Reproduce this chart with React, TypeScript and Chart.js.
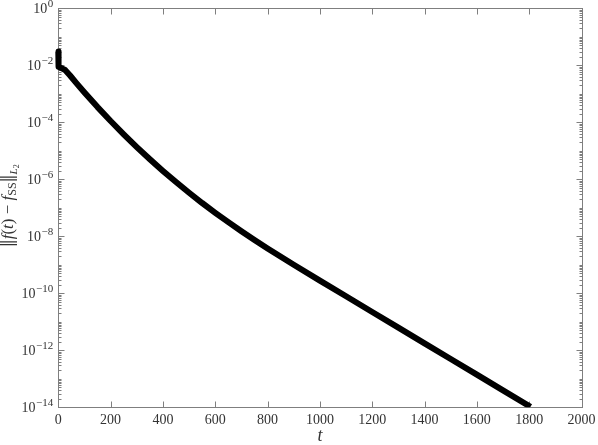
import React, { useEffect, useRef } from "react";
import { Chart, registerables } from "chart.js";

Chart.register(...registerables);

// time samples t and the L2 error norm ||f(t) - f_SS||
const times = [0, 1, 12, 26, 45, 70, 100, 150, 200, 250, 300, 350, 400, 450, 500, 550, 600, 650, 700, 750, 800, 900, 1000, 1100, 1200, 1300, 1400, 1500, 1600, 1700, 1805];
const errorNorm = [
  3.02e-2, 8.91e-3, 7.94e-3, 6.84e-3, 4.39e-3, 2.33e-3, 1.114e-3, 3.41e-4, 1.109e-4, 3.79e-5,
  1.355e-5, 5.06e-6, 1.972e-6, 8.0e-7, 3.37e-7, 1.472e-7, 6.68e-8, 3.13e-8, 1.503e-8, 7.41e-9,
  3.76e-9, 1.005e-9, 2.79e-10, 7.85e-11, 2.213e-11, 6.24e-12, 1.758e-12, 4.95e-13, 1.396e-13, 3.94e-14,
  1.04e-14,
];
const xTicks = [0, 200, 400, 600, 800, 1000, 1200, 1400, 1600, 1800, 2000];
const yTickExponents = [0, -2, -4, -6, -8, -10, -12, -14];
const xMin = 0;
const xMax = 2000;
const yMinExp = -14;
const yMaxExp = 0;

const AXIS_COLOR = "#7f7f7f";
const TEXT_COLOR = "#333333";

type Seg = { t: string; font: string; dy: number };

const yTitle: Seg[] = [
  { t: "\u2016", font: '16px "DejaVu Serif"', dy: 0 },
  { t: "f", font: 'italic 17px "Liberation Serif"', dy: 0 },
  { t: "(", font: '17px "Liberation Serif"', dy: 0 },
  { t: "t", font: 'italic 17px "Liberation Serif"', dy: 0 },
  { t: ")", font: '17px "Liberation Serif"', dy: 0 },
  { t: " \u2212 ", font: '17px "Liberation Serif"', dy: 0 },
  { t: "f", font: 'italic 17px "Liberation Serif"', dy: 0 },
  { t: "SS", font: '12px "Liberation Serif"', dy: 3 },
  { t: "\u2016", font: '16px "DejaVu Serif"', dy: 0 },
  { t: "L", font: 'italic 11px "Liberation Serif"', dy: 4 },
  { t: "2", font: '8px "Liberation Serif"', dy: 6 },
];

const axesPlugin = {
  id: "mplAxes",
  beforeDatasetsDraw(chart: any) {
    const { ctx, chartArea: a, scales } = chart;
    const xs = scales.x;
    const ys = scales.y;
    const L = Math.round(a.left) + 0.5;
    const R = Math.round(a.right) + 0.5;
    const T = Math.round(a.top) + 0.5;
    const B = Math.round(a.bottom) + 0.5;
    ctx.save();
    ctx.strokeStyle = AXIS_COLOR;
    ctx.lineWidth = 1;
    ctx.strokeRect(L, T, R - L, B - T);

    ctx.beginPath();
    for (const v of xTicks) {
      const px = Math.round(xs.getPixelForValue(v)) + 0.5;
      ctx.moveTo(px, B);
      ctx.lineTo(px, B - 6);
      ctx.moveTo(px, T);
      ctx.lineTo(px, T + 6);
    }
    for (let d = yMaxExp; d >= yMinExp; d--) {
      const major = d % 2 === 0;
      const len = major ? 6 : 3;
      const py = Math.round(ys.getPixelForValue(Math.pow(10, d))) + 0.5;
      ctx.moveTo(L, py);
      ctx.lineTo(L + len, py);
      ctx.moveTo(R, py);
      ctx.lineTo(R - len, py);
      if (d > yMinExp) {
        for (let k = 2; k <= 9; k++) {
          const v = k * Math.pow(10, d - 1);
          const pm = Math.round(ys.getPixelForValue(v)) + 0.5;
          ctx.moveTo(L, pm);
          ctx.lineTo(L + 3, pm);
          ctx.moveTo(R, pm);
          ctx.lineTo(R - 3, pm);
        }
      }
    }
    ctx.stroke();

    ctx.fillStyle = TEXT_COLOR;
    ctx.font = '14px "Liberation Serif"';
    ctx.textAlign = "center";
    ctx.textBaseline = "alphabetic";
    for (const v of xTicks) {
      ctx.fillText(String(v), xs.getPixelForValue(v), a.bottom + 16.5);
    }

    const rightEdge = a.left - 5;
    for (const d of yTickExponents) {
      const py = ys.getPixelForValue(Math.pow(10, d));
      const expStr = d === 0 ? "0" : "\u2212" + Math.abs(d);
      ctx.font = '11px "Liberation Serif"';
      const ew = ctx.measureText(expStr).width;
      ctx.textAlign = "left";
      ctx.fillText(expStr, rightEdge - ew, py - 1.5);
      ctx.font = '14px "Liberation Serif"';
      ctx.textAlign = "right";
      ctx.fillText("10", rightEdge - ew - 0.5, py + 4.5);
    }

    ctx.font = 'italic 18px "Liberation Serif"';
    ctx.textAlign = "center";
    ctx.fillText("t", (a.left + a.right) / 2, 441);

    ctx.save();
    const cy = (a.top + a.bottom) / 2 - 2;
    ctx.translate(13, cy);
    ctx.rotate(-Math.PI / 2);
    ctx.textAlign = "left";
    let total = 0;
    for (const s of yTitle) {
      ctx.font = s.font;
      total += ctx.measureText(s.t).width;
    }
    let x = -total / 2;
    for (const s of yTitle) {
      ctx.font = s.font;
      ctx.fillText(s.t, x, s.dy);
      x += ctx.measureText(s.t).width;
    }
    ctx.restore();

    ctx.restore();
  },
};

export default function App() {
  const ref = useRef<HTMLCanvasElement | null>(null);
  useEffect(() => {
    if (!ref.current) return;
    const chart = new Chart(ref.current, {
      type: "line",
      data: {
        datasets: [
          {
            data: times.map((t, i) => ({ x: t, y: errorNorm[i] })),
            borderColor: "#000000",
            borderWidth: 6,
            pointRadius: 0,
            tension: 0,
            fill: false,
            borderJoinStyle: "round",
            borderCapStyle: "butt",
            clip: { left: 10, top: 10, right: 10, bottom: 0 },
          } as any,
        ],
      },
      options: {
        responsive: false,
        animation: false,
        layout: { padding: { left: 58.3, right: 16.5, top: 8.3, bottom: 37.7 } },
        plugins: { legend: { display: false }, tooltip: { enabled: false } },
        scales: {
          x: { type: "linear", min: xMin, max: xMax, display: false },
          y: { type: "logarithmic", min: Math.pow(10, yMinExp), max: Math.pow(10, yMaxExp), display: false },
        },
      },
      plugins: [axesPlugin],
    });
    return () => chart.destroy();
  }, []);
  return (
    <div style={{ position: "absolute", left: 0, top: 0, width: 598, height: 445, background: "#fff" }}>
      <canvas ref={ref} width={598} height={445} style={{ display: "block" }} />
    </div>
  );
}
